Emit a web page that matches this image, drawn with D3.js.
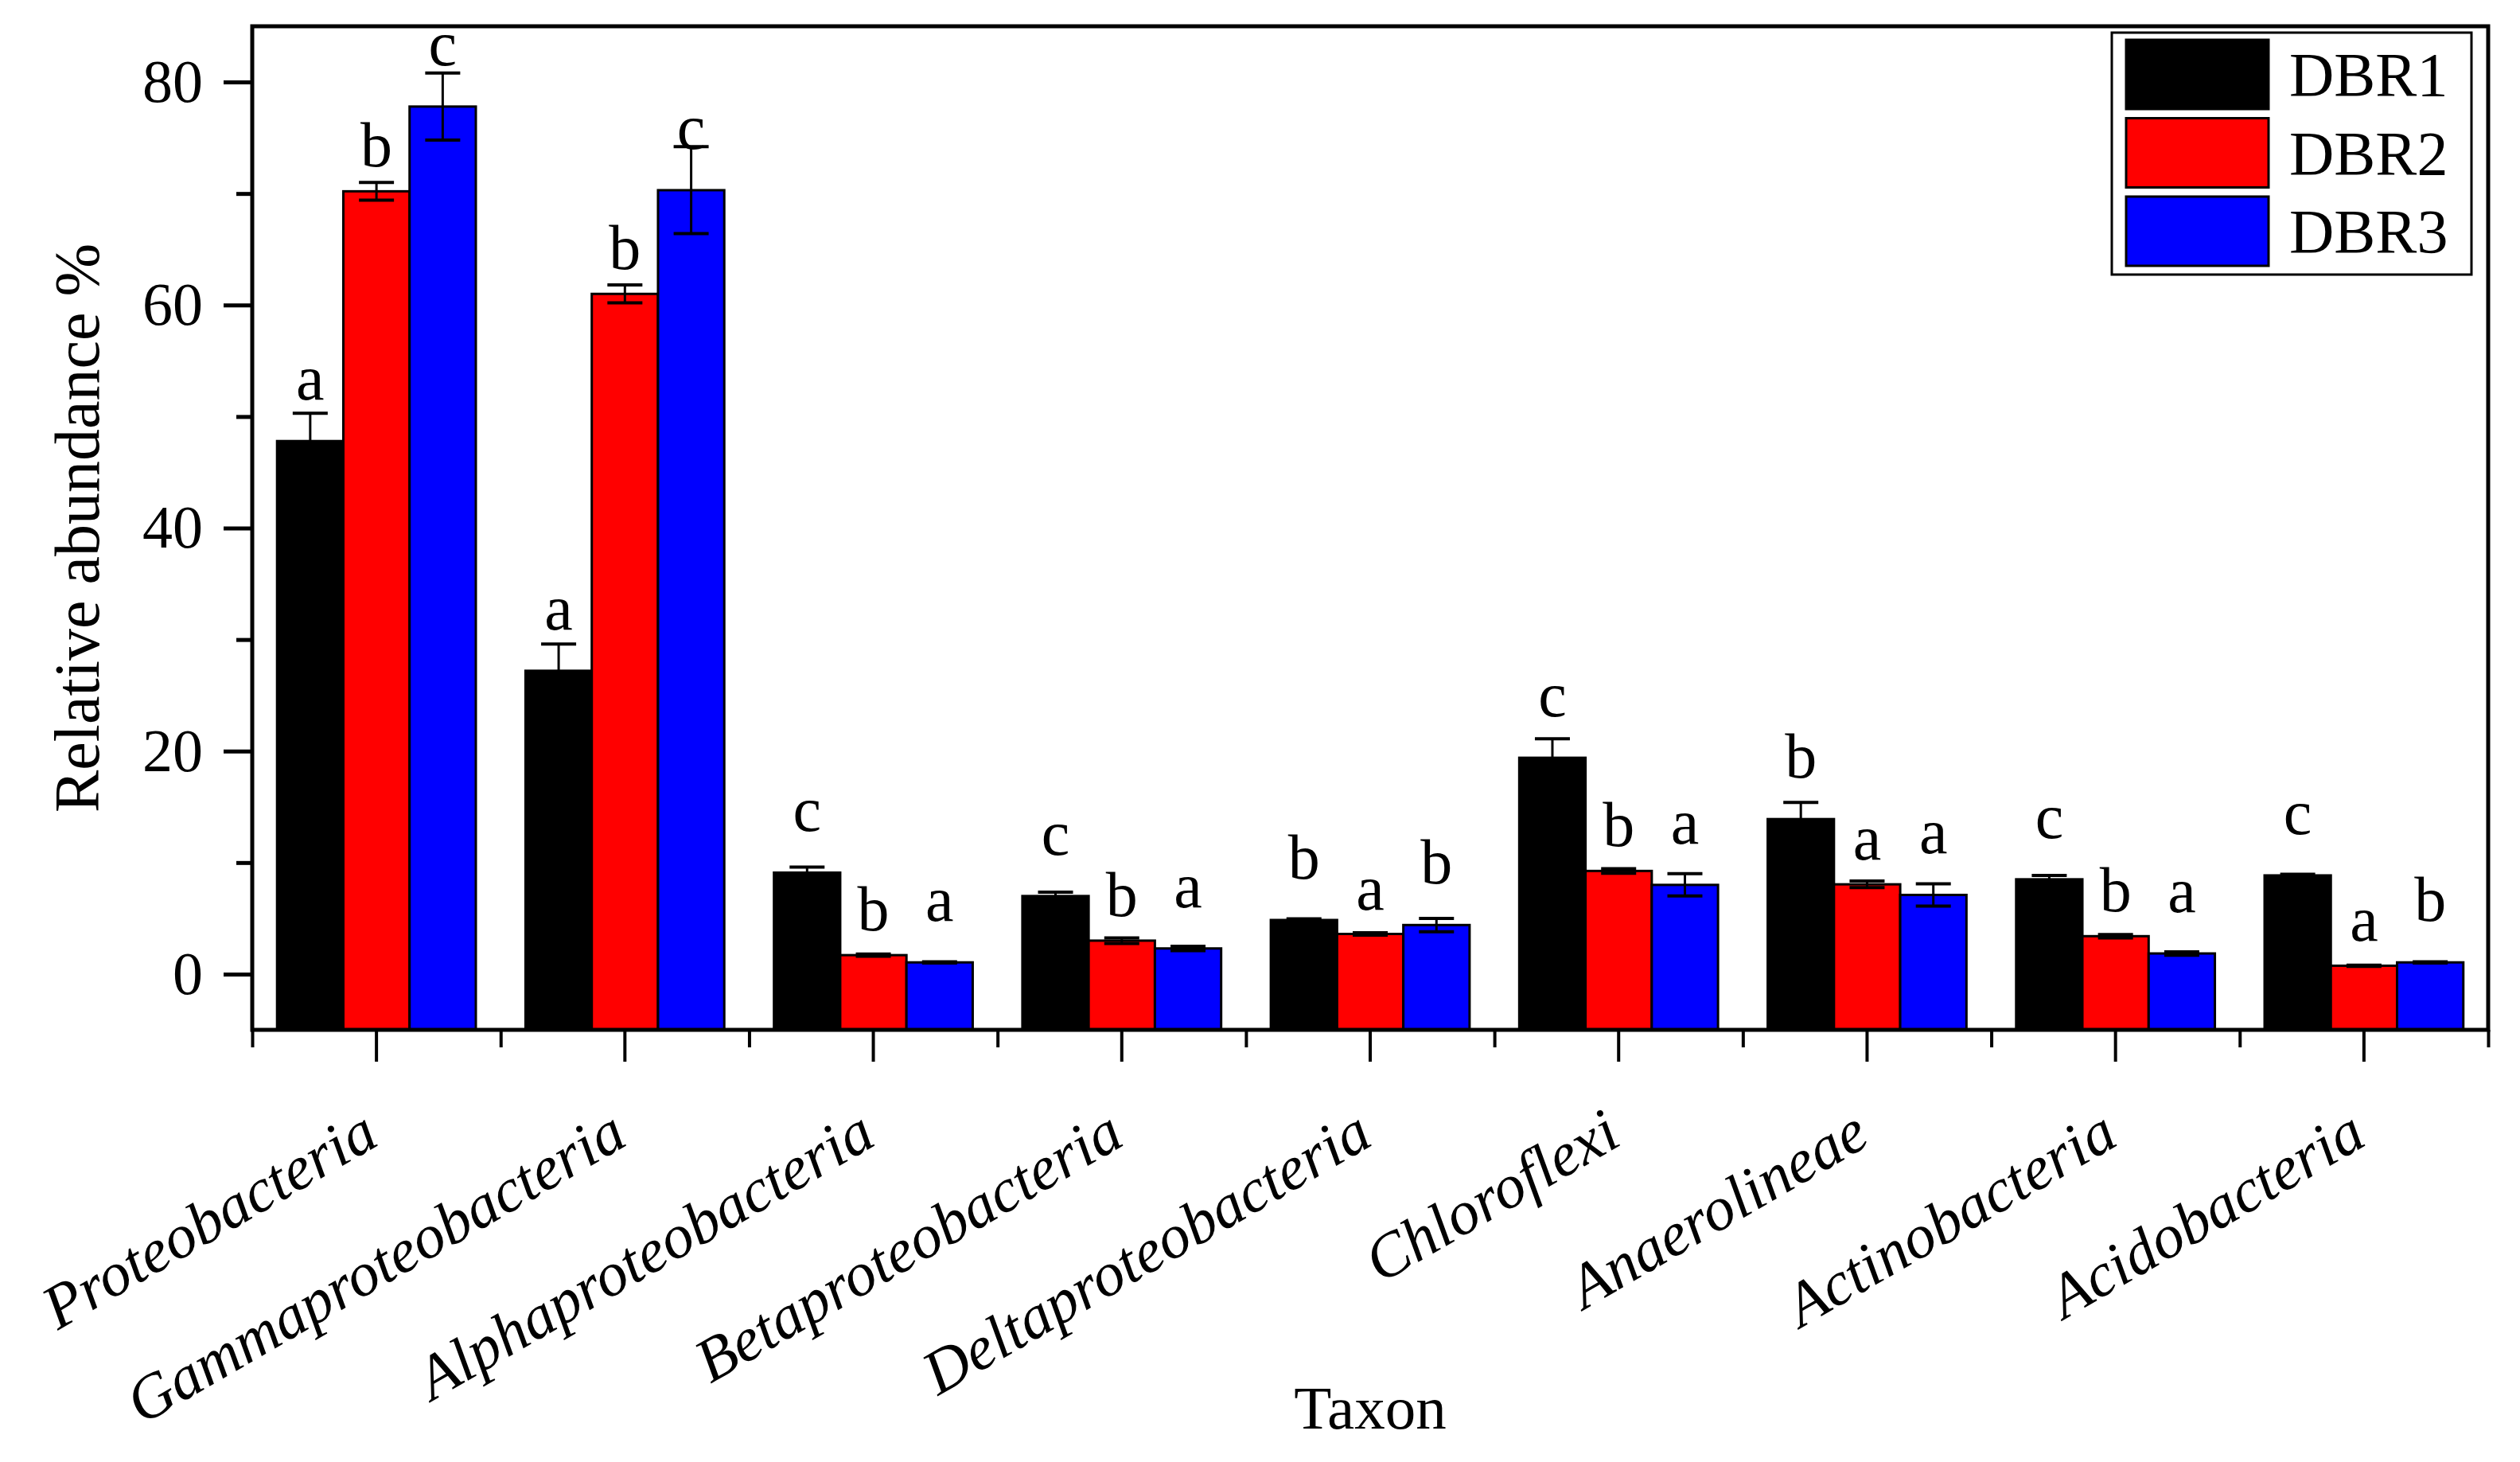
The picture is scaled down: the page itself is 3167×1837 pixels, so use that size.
<!DOCTYPE html>
<html>
<head>
<meta charset="utf-8">
<script src="https://cdn.jsdelivr.net/npm/d3@7"></script>
<style>
  body { margin: 0; background: #fff; }
  text { font-family: "Liberation Serif", "Times New Roman", serif; }
</style>
</head>
<body>
<script>
// data
const taxa = ["Proteobacteria", "Gammaproteobacteria", "Alphaproteobacteria", "Betaproteobacteria",
              "Deltaproteobacteria", "Chloroflexi", "Anaerolineae", "Actinobacteria", "Acidobacteria"];
const groups = ["DBR1", "DBR2", "DBR3"];
const colors = ["#000000", "#ff0000", "#0000ff"];

const dbr1 = [47.8, 27.2, 9.1, 7.0, 4.85, 19.4, 13.9, 8.5, 8.85];
const dbr2 = [70.2, 61.0, 1.7, 3.0, 3.6, 9.25, 8.05, 3.4, 0.75];
const dbr3 = [77.8, 70.3, 1.05, 2.3, 4.4, 8.0, 7.1, 1.85, 1.05];

const err1 = [2.5, 2.4, 0.5, 0.35, 0.1, 1.7, 1.5, 0.35, 0.1];
const err2 = [0.8, 0.8, 0.1, 0.25, 0.1, 0.2, 0.3, 0.15, 0.05];
const err3 = [3.0, 3.9, 0.05, 0.2, 0.6, 1.0, 1.0, 0.15, 0.05];

const sig1 = ["a", "a", "c", "c", "b", "c", "b", "c", "c"];
const sig2 = ["b", "b", "b", "b", "a", "b", "a", "b", "a"];
const sig3 = ["c", "c", "a", "a", "b", "a", "a", "a", "b"];

const yMajor = [0, 20, 40, 60, 80];
const yMinor = [10, 30, 50, 70];

const values = [dbr1, dbr2, dbr3];
const errors = [err1, err2, err3];
const sigs = [sig1, sig2, sig3];
// letters sit a fixed distance above each bar top (px), it differs per series in the original
const sigGap = [52, 31, 52];

// flat table for drawing
let rows = [];
taxa.forEach(function(t, i) {
    groups.forEach(function(g, j) {
        rows.push({taxon: t, group: g, color: colors[j], value: values[j][i], err: errors[j][i], sig: sigs[j][i], gap: sigGap[j]});
    });
});

let margin = {top: 33, right: 40, bottom: 543, left: 317},
    width = 3167 - margin.left - margin.right,
    height = 1837 - margin.top - margin.bottom;

let svg = d3.select("body")
    .append("svg")
        .attr("width", 3167)
        .attr("height", 1837)
    .append("g")
        .attr("transform", "translate(" + margin.left + "," + margin.top + ")");

let x = d3.scaleBand()
    .domain(taxa)
    .range([0, width])
    .paddingInner(0.2)
    .paddingOuter(0.1);

let xInner = d3.scaleBand()
    .domain(groups)
    .range([0, x.bandwidth()]);

let xEdge = d3.scaleLinear()
    .domain([0, taxa.length])
    .range([0, width]);

let y = d3.scaleLinear()
    .domain([-5, 85])
    .range([height, 0]);

// bars start from the bottom of the axis, as in the original
svg.selectAll("rect.bar")
    .data(rows)
    .enter()
    .append("rect")
        .attr("class", "bar")
        .attr("x", function(d) { return x(d.taxon) + xInner(d.group); })
        .attr("y", function(d) { return y(d.value); })
        .attr("width", xInner.bandwidth())
        .attr("height", function(d) { return height - y(d.value); })
        .style("fill", function(d) { return d.color; })
        .style("stroke", "#000")
        .style("stroke-width", 3);

// error bars
let eb = svg.selectAll("g.err")
    .data(rows)
    .enter()
    .append("g")
        .attr("class", "err")
        .attr("transform", function(d) { return "translate(" + (x(d.taxon) + xInner(d.group) + xInner.bandwidth() / 2) + ",0)"; });
eb.append("line")
    .attr("y1", function(d) { return y(d.value + d.err); })
    .attr("y2", function(d) { return y(d.value - d.err); })
    .style("stroke", "#000").style("stroke-width", 3);
eb.append("line")
    .attr("x1", -22).attr("x2", 22)
    .attr("y1", function(d) { return y(d.value + d.err); })
    .attr("y2", function(d) { return y(d.value + d.err); })
    .style("stroke", "#000").style("stroke-width", 4);
eb.append("line")
    .attr("x1", -22).attr("x2", 22)
    .attr("y1", function(d) { return y(d.value - d.err); })
    .attr("y2", function(d) { return y(d.value - d.err); })
    .style("stroke", "#000").style("stroke-width", 4);

// significance letters
svg.selectAll("text.sig")
    .data(rows)
    .enter()
    .append("text")
        .attr("class", "sig")
        .attr("x", function(d) { return x(d.taxon) + xInner(d.group) + xInner.bandwidth() / 2; })
        .attr("y", function(d) { return y(d.value) - d.gap; })
        .attr("text-anchor", "middle")
        .style("font-size", "80px")
        .text(function(d) { return d.sig; });

// frame
svg.append("rect")
    .attr("width", width)
    .attr("height", height)
    .style("fill", "none")
    .style("stroke", "#000")
    .style("stroke-width", 5);

// y axis
let yAx = svg.append("g")
    .call(d3.axisLeft(y).tickValues(yMajor).tickSize(36).tickPadding(26));
yAx.selectAll("text").style("font-size", "76px").style("font-family", "Liberation Serif, serif");
yAx.selectAll("line").style("stroke-width", 5);
yAx.select(".domain").remove();

let yMin = svg.append("g")
    .call(d3.axisLeft(y).tickValues(yMinor).tickSize(20).tickFormat(""));
yMin.selectAll("line").style("stroke-width", 5);
yMin.select(".domain").remove();

// x axis
let xAx = svg.append("g")
    .attr("transform", "translate(0," + height + ")")
    .call(d3.axisBottom(x).tickSize(40).tickFormat(""));
xAx.selectAll("line").style("stroke-width", 4);
xAx.select(".domain").remove();

let xMin = svg.append("g")
    .attr("transform", "translate(0," + height + ")")
    .call(d3.axisBottom(xEdge).tickValues(d3.range(taxa.length + 1)).tickSize(22).tickFormat(""));
xMin.selectAll("line").style("stroke-width", 4);
xMin.select(".domain").remove();

svg.selectAll("text.taxon")
    .data(taxa)
    .enter()
    .append("text")
        .attr("class", "taxon")
        .attr("transform", function(d) { return "translate(" + (x(d) + x.bandwidth() / 2 + 6) + "," + (height + 143) + ") rotate(-30)"; })
        .attr("text-anchor", "end")
        .style("font-style", "italic")
        .style("font-size", "78px")
        .text(function(d) { return d; });

// axis titles
svg.append("text")
    .attr("x", width / 2)
    .attr("y", 1795 - margin.top)
    .attr("text-anchor", "middle")
    .style("font-size", "77px")
    .text("Taxon");

svg.append("text")
    .attr("transform", "translate(" + (124 - margin.left) + "," + (y(40)) + ") rotate(-90)")
    .attr("text-anchor", "middle")
    .style("font-size", "80px")
    .text("Relative abundance %");

// legend
let legend = svg.append("g")
    .attr("transform", "translate(" + (2654 - margin.left) + "," + (41 - margin.top) + ")");
legend.append("rect")
    .attr("width", 452)
    .attr("height", 304)
    .style("fill", "#fff")
    .style("stroke", "#000")
    .style("stroke-width", 3);
let item = legend.selectAll("g.item")
    .data(groups)
    .enter()
    .append("g")
        .attr("class", "item")
        .attr("transform", function(d, i) { return "translate(18," + (9 + i * 98.5) + ")"; });
item.append("rect")
    .attr("width", 179)
    .attr("height", 87)
    .style("fill", function(d, i) { return colors[i]; })
    .style("stroke", "#000")
    .style("stroke-width", 3);
item.append("text")
    .attr("x", 205)
    .attr("y", 70)
    .style("font-size", "78px")
    .text(function(d) { return d; });
</script>
</body>
</html>
